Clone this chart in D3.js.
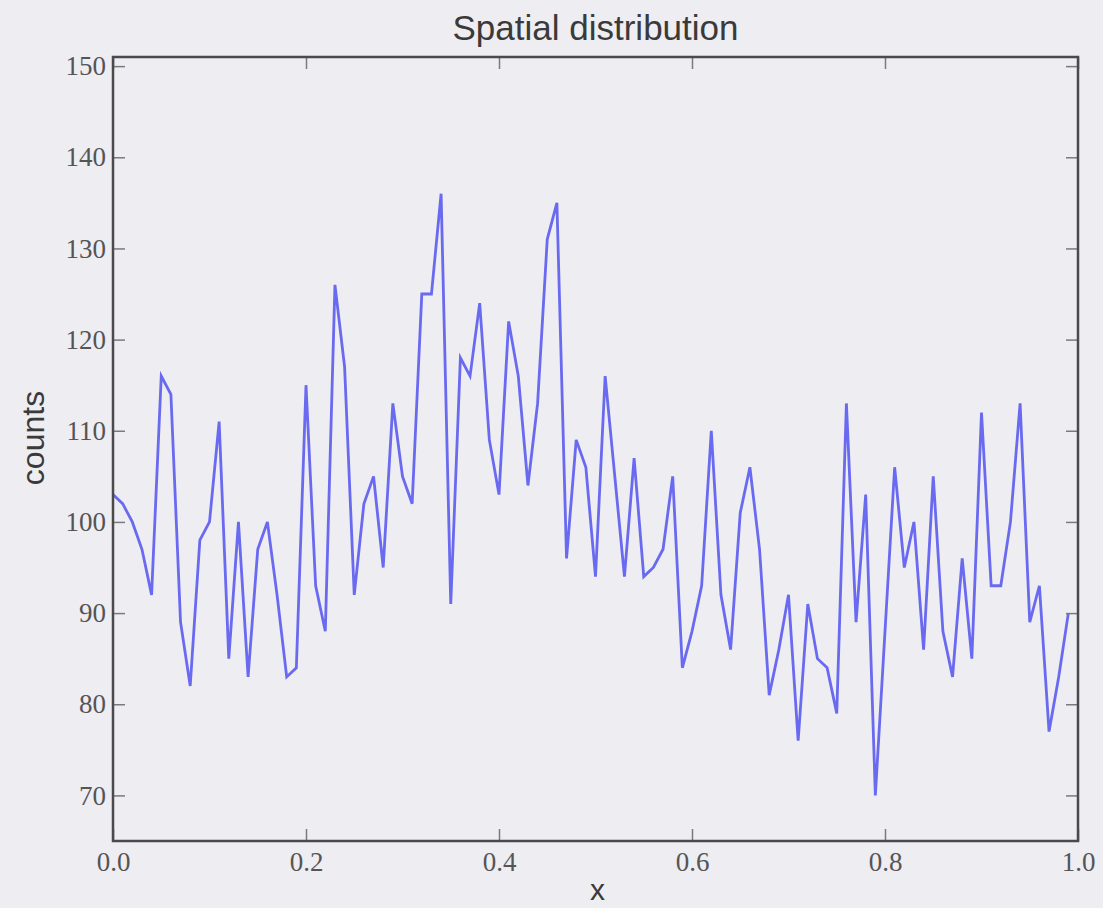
<!DOCTYPE html>
<html>
<head>
<meta charset="utf-8">
<script src="https://cdn.jsdelivr.net/npm/d3@7/dist/d3.min.js"></script>
<style>
  html, body { margin: 0; padding: 0; background: #eeedf2; }
  svg { display: block; }
</style>
</head>
<body>
<svg id="chart" width="1103" height="908"></svg>
<script>
// Sample positions along x (100 bins of width 0.01)
const positions = d3.range(0, 100).map(i => i / 100);
// Counts per bin
const counts = [
  103,102,100,97,92,116,114,89,82,98,
  100,111,85,100,83,97,100,92,83,84,
  115,93,88,126,117,92,102,105,95,113,
  105,102,125,125,136,91,118,116,124,109,
  103,122,116,104,113,131,135,96,109,106,
  94,116,105,94,107,94,95,97,105,84,
  88,93,110,92,86,101,106,97,81,86,
  92,76,91,85,84,79,113,89,103,70,
  88,106,95,100,86,105,88,83,96,85,
  112,93,93,100,113,89,93,77,83,90
];
const xTicks = [0.0, 0.2, 0.4, 0.6, 0.8, 1.0];
const yTicks = [70, 80, 90, 100, 110, 120, 130, 140, 150];
const xDomain = [0, 1];
const yDomain = [65, 151];

const box = { left: 113, right: 1078, top: 57, bottom: 841 };
const svg = d3.select("#chart");

const x = d3.scaleLinear().domain(xDomain).range([box.left, box.right]);
const y = d3.scaleLinear().domain(yDomain).range([box.bottom, box.top]);

const tickLen = 12;
const tickColor = "#7a7a7a";
const labelFont = "'Liberation Serif', 'Times New Roman', serif";
const sansFont = "'Liberation Sans', Arial, Helvetica, sans-serif";

// Data line
const line = d3.line()
  .x((d, i) => x(positions[i]))
  .y(d => y(d));

svg.append("path")
  .datum(counts)
  .attr("d", line)
  .attr("fill", "none")
  .attr("stroke", "#6a6af0")
  .attr("stroke-width", 2.8)
  .attr("stroke-linejoin", "miter");

// Inward ticks on all four sides, labels on bottom and left
function styleAxis(g) {
  g.select(".domain").remove();
  g.selectAll(".tick line").attr("stroke", tickColor).attr("stroke-width", 1.5);
  g.selectAll(".tick text")
    .attr("fill", "#555")
    .style("font-family", labelFont)
    .style("font-size", "27px");
}

svg.append("g")
  .attr("transform", `translate(0,${box.bottom})`)
  .call(d3.axisBottom(x).tickValues(xTicks).tickFormat(d3.format(".1f"))
    .tickSizeInner(-tickLen).tickSizeOuter(0).tickPadding(11))
  .call(styleAxis);

svg.append("g")
  .attr("transform", `translate(0,${box.top})`)
  .call(d3.axisTop(x).tickValues(xTicks).tickFormat("")
    .tickSizeInner(-tickLen).tickSizeOuter(0))
  .call(styleAxis);

svg.append("g")
  .attr("transform", `translate(${box.left},0)`)
  .call(d3.axisLeft(y).tickValues(yTicks).tickFormat(d3.format("d"))
    .tickSizeInner(-tickLen).tickSizeOuter(0).tickPadding(7))
  .call(styleAxis);

svg.append("g")
  .attr("transform", `translate(${box.right},0)`)
  .call(d3.axisRight(y).tickValues(yTicks).tickFormat("")
    .tickSizeInner(-tickLen).tickSizeOuter(0))
  .call(styleAxis);

// Frame around the plotting area
svg.append("rect")
  .attr("x", box.left)
  .attr("y", box.top)
  .attr("width", box.right - box.left)
  .attr("height", box.bottom - box.top)
  .attr("fill", "none")
  .attr("stroke", "#4a4a4a")
  .attr("stroke-width", 2.5);

// Title and axis labels
svg.append("text")
  .attr("x", (box.left + box.right) / 2)
  .attr("y", 40)
  .attr("text-anchor", "middle")
  .attr("fill", "#3a3a3a")
  .style("font-family", sansFont)
  .style("font-size", "35px")
  .text("Spatial distribution");

svg.append("text")
  .attr("x", (box.left + box.right) / 2 + 2)
  .attr("y", 900)
  .attr("text-anchor", "middle")
  .attr("fill", "#3a3a3a")
  .style("font-family", sansFont)
  .style("font-size", "30px")
  .text("x");

svg.append("text")
  .attr("transform", `translate(44,${(box.top + box.bottom) / 2 - 11}) rotate(-90)`)
  .attr("text-anchor", "middle")
  .attr("fill", "#3a3a3a")
  .style("font-family", sansFont)
  .style("font-size", "32px")
  .text("counts");
</script>
</body>
</html>
